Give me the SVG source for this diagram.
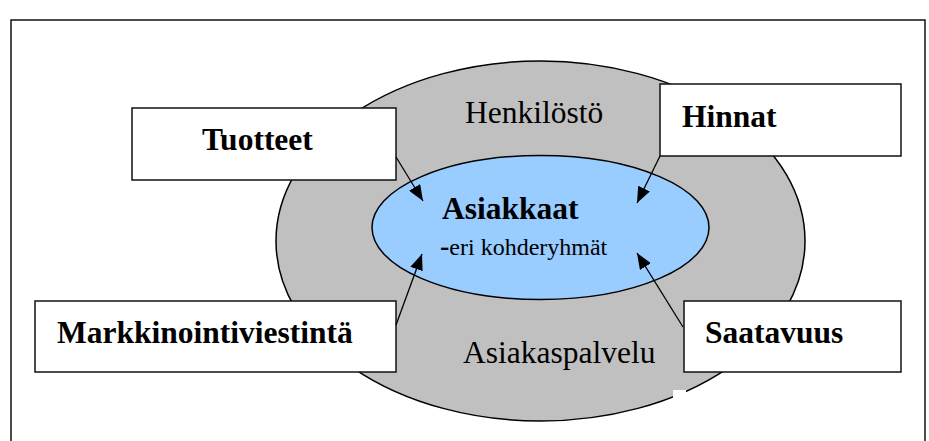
<svg xmlns="http://www.w3.org/2000/svg" width="929" height="441" viewBox="0 0 929 441">
  <style>
    .frame { fill: none; stroke: #111; stroke-width: 1.5; }
    .box { fill: #ffffff; stroke: #111; stroke-width: 1.5; }
    .lbl { font-family: "Liberation Serif", "Times New Roman", serif; font-size: 31.5px; fill: #000; }
    .b { font-weight: bold; }
    .conn { stroke: #000; stroke-width: 1.3; fill: none; marker-end: url(#arr); }
  </style>
  <defs>
    <marker id="arr" markerUnits="userSpaceOnUse" markerWidth="17" markerHeight="13" refX="16" refY="6.5" orient="auto">
      <path d="M0,0 L16,6.5 L0,13 z" fill="#000"/>
    </marker>
  </defs>
  <rect x="0" y="0" width="929" height="441" fill="#ffffff"/>
  <rect class="frame" x="11" y="20" width="914" height="440"/>

  <g id="outer-ellipse">
    <ellipse cx="540.5" cy="241" rx="264.5" ry="180" fill="#c0c0c0" stroke="#000" stroke-width="1.5"/>
    <text class="lbl" x="465" y="123">Henkilöstö</text>
    <text class="lbl" x="463" y="363">Asiakaspalvelu</text>
    <rect x="673" y="390" width="13" height="8" fill="#ffffff"/>
  </g>

  <g id="asiakkaat">
    <ellipse cx="540.5" cy="227.5" rx="168.5" ry="72" fill="#99ccff" stroke="#000" stroke-width="1.5"/>
    <text class="lbl b" x="442" y="219">Asiakkaat</text>
    <text class="lbl" x="440" y="255" style="font-size:24px"><tspan class="b" style="font-size:28px">-</tspan>eri kohderyhmät</text>
  </g>

  <g id="tuotteet">
    <rect class="box" x="132" y="108" width="264" height="72"/>
    <text class="lbl b" x="202" y="150">Tuotteet</text>
  </g>

  <g id="hinnat">
    <rect class="box" x="660" y="84" width="241" height="72"/>
    <text class="lbl b" x="682" y="127">Hinnat</text>
  </g>

  <g id="markkinointiviestinta">
    <rect class="box" x="35" y="301" width="361" height="71"/>
    <text class="lbl b" x="57" y="343">Markkinointiviestintä</text>
  </g>

  <g id="saatavuus">
    <rect class="box" x="684" y="301" width="217" height="71"/>
    <text class="lbl b" x="705" y="343">Saatavuus</text>
  </g>

  <g id="connectors">
    <line class="conn" x1="396" y1="157" x2="423" y2="201"/>
    <line class="conn" x1="660" y1="156" x2="637" y2="203"/>
    <line class="conn" x1="396" y1="325" x2="422" y2="254"/>
    <line class="conn" x1="683" y1="327" x2="637" y2="253"/>
  </g>
</svg>
